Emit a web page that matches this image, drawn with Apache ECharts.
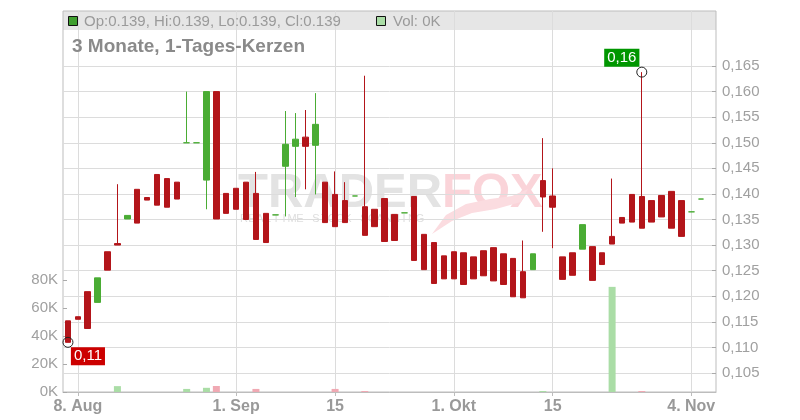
<!DOCTYPE html>
<html><head><meta charset="utf-8">
<script src="https://cdn.jsdelivr.net/npm/echarts@6/dist/echarts.min.js"></script>
<style>html,body{margin:0;padding:0;background:#fff}#c{width:800px;height:420px}</style>
</head><body><div id="c"></div>
<script>
// ---- data ----
const dates = [
'2024-08-07','2024-08-08','2024-08-09','2024-08-12','2024-08-13','2024-08-14','2024-08-15','2024-08-16','2024-08-19','2024-08-20',
'2024-08-21','2024-08-22','2024-08-23','2024-08-26','2024-08-27','2024-08-28','2024-08-29','2024-08-30','2024-09-02','2024-09-03',
'2024-09-04','2024-09-05','2024-09-06','2024-09-09','2024-09-10','2024-09-11','2024-09-12','2024-09-13','2024-09-16','2024-09-17',
'2024-09-18','2024-09-19','2024-09-20','2024-09-23','2024-09-24','2024-09-25','2024-09-26','2024-09-27','2024-09-30','2024-10-01',
'2024-10-02','2024-10-03','2024-10-04','2024-10-07','2024-10-08','2024-10-09','2024-10-10','2024-10-11','2024-10-14','2024-10-15',
'2024-10-16','2024-10-17','2024-10-18','2024-10-21','2024-10-22','2024-10-23','2024-10-24','2024-10-25','2024-10-28','2024-10-29',
'2024-10-30','2024-10-31','2024-11-01','2024-11-04','2024-11-05','2024-11-06'];
const opens = [
0.1152,0.1160,0.1209,0.1188,0.1287,0.1303,0.1351,0.1409,0.1393,0.1438,
0.1430,0.1423,0.1500,0.1500,0.1427,0.1600,0.1401,0.1411,0.1423,0.1401,
0.1362,0.1359,0.1454,0.1493,0.1511,0.1495,0.1423,0.1399,0.1387,0.1396,
0.1375,0.1370,0.1391,0.1360,0.1363,0.1395,0.1321,0.1305,0.1279,0.1287,
0.1285,0.1277,0.1289,0.1295,0.1283,0.1274,0.1248,0.1252,0.1426,0.1396,
0.1277,0.1285,0.1292,0.1297,0.1285,0.1317,0.1354,0.1399,0.1395,0.1387,
0.1397,0.1405,0.1387,0.1365,0.1390];
const closes = [
0.1110,0.1155,0.1137,0.1236,0.1251,0.1300,0.1358,0.1343,0.1388,0.1378,
0.1374,0.1390,0.1500,0.1500,0.1600,0.1351,0.1362,0.1370,0.1350,0.1311,
0.1305,0.1359,0.1497,0.1507,0.1493,0.1536,0.1344,0.1336,0.1344,0.1396,
0.1319,0.1336,0.1307,0.1309,0.1363,0.1270,0.1252,0.1225,0.1234,0.1234,
0.1223,0.1234,0.1240,0.1230,0.1223,0.1199,0.1197,0.1283,0.1394,0.1374,
0.1233,0.1241,0.1340,0.1231,0.1262,0.1302,0.1343,0.1345,0.1333,0.1345,
0.1355,0.1333,0.1317,0.1365,0.1390];
const lows = [
0.1110,0.1155,0.1137,0.1188,0.1251,0.1300,0.1351,0.1343,0.1388,0.1378,
0.1374,0.1390,0.1500,0.1500,0.1370,0.1351,0.1362,0.1370,0.1350,0.1311,
0.1305,0.1359,0.1356,0.1394,0.1409,0.1399,0.1344,0.1336,0.1344,0.1396,
0.1319,0.1336,0.1307,0.1309,0.1363,0.1270,0.1252,0.1225,0.1234,0.1234,
0.1223,0.1234,0.1240,0.1230,0.1223,0.1199,0.1197,0.1252,0.1326,0.1294,
0.1233,0.1241,0.1292,0.1231,0.1262,0.1302,0.1343,0.1345,0.1333,0.1345,
0.1355,0.1333,0.1317,0.1365,0.1390];
const highs = [
0.1152,0.1160,0.1209,0.1236,0.1287,0.1419,0.1358,0.1409,0.1393,0.1438,
0.1430,0.1423,0.1600,0.1500,0.1600,0.1600,0.1401,0.1411,0.1423,0.1443,
0.1362,0.1359,0.1562,0.1558,0.1564,0.1597,0.1423,0.1444,0.1423,0.1396,
0.1631,0.1370,0.1391,0.1360,0.1363,0.1395,0.1321,0.1305,0.1279,0.1287,
0.1285,0.1277,0.1289,0.1295,0.1283,0.1274,0.1309,0.1283,0.1509,0.1450,
0.1277,0.1285,0.1340,0.1297,0.1285,0.1430,0.1354,0.1399,0.1638,0.1387,
0.1397,0.1405,0.1387,0.1365,0.1390];
const volumes = [
0,0,0,0,0,4200,0,0,0,0,
0,0,2200,0,3000,4300,0,0,0,2200,
0,0,0,0,0,0,0,2200,0,0,
700,0,0,0,0,0,0,0,0,0,
0,0,0,0,0,0,0,0,700,0,
0,0,0,0,0,75300,0,0,700,0,
0,0,0,0,0,0];
const tickIdx = [1,17,27,39,49,63];
const tickText = ['8. Aug','1. Sep','15','1. Okt','15','4. Nov'];
const priceTickStep = 0.005;
const volTickStep = 20000;

// ---- styling ----
const FONT = 'Liberation Sans, Arial, sans-serif';
const RED = '#b3151a', GREEN = '#4aac34';
const VGREEN = '#aadda6', VPINK = '#f0a9b3';
const GRIDC = '#dcdcdc', FRAME = '#bdbdbd', LBL = '#a0a0a0';

const candleData = dates.map((d,i) => i < opens.length ? [opens[i], closes[i], lows[i], highs[i]] : '-');
const isTick = (i) => tickIdx.indexOf(i) >= 0;
let iMax = 0, iMin = 0;
highs.forEach((v,i) => { if (v > highs[iMax]) iMax = i; });
lows.forEach((v,i) => { if (v < lows[iMin]) iMin = i; });
const last = opens.length - 1;
const fmt3 = v => v.toFixed(3);
const headerText = 'Op:' + fmt3(opens[last]) + ', Hi:' + fmt3(highs[last]) + ', Lo:' + fmt3(lows[last]) + ', Cl:' + fmt3(closes[last]);
const volText = 'Vol: ' + Math.round(volumes[last] / 1000) + 'K';

const L = 63, R = 84, B = 28;
const priceMin = 0.10129, priceMax = 0.165;

const sub = 'REALTIME STOCK SCANNING'.split('');
const subEls = sub.map((ch, k) => ({type:'text', z:-1, silent:true,
  style:{text:ch, x:244 + k*8, y:219, font:'11px ' + FONT, fill:'#dedede', align:'center', verticalAlign:'middle'}}));

const chart = echarts.init(document.getElementById('c'), null, {renderer:'canvas'});
chart.setOption({
  animation:false,
  backgroundColor:'#fff',
  grid:[
    {left:L, right:R, top:11, bottom:B, show:true, borderColor:FRAME, borderWidth:1, backgroundColor:'transparent'},
    {left:L, right:R, top:66, bottom:B},
    {left:L, right:R, top:280.3, bottom:B}
  ],
  xAxis:[
    {type:'category', gridIndex:0, data:dates, boundaryGap:true,
     axisLine:{show:true, lineStyle:{color:FRAME}},
     axisTick:{show:true, alignWithLabel:true, interval:isTick, length:4, lineStyle:{color:FRAME}},
     axisLabel:{interval:isTick, formatter:(v,i) => tickText[tickIdx.indexOf(i)] || '', color:'#999', fontWeight:'bold', fontSize:16, fontFamily:FONT, margin:7},
     splitLine:{show:true, interval:isTick, alignWithLabel:true, lineStyle:{color:GRIDC}}},
    {type:'category', gridIndex:1, data:dates, boundaryGap:true, show:false},
    {type:'category', gridIndex:2, data:dates, boundaryGap:true, show:false}
  ],
  yAxis:[
    {type:'value', gridIndex:0, show:false, min:0, max:1, splitLine:{show:false}},
    {type:'value', gridIndex:1, position:'right', min:priceMin, max:priceMax,
     minInterval:priceTickStep, maxInterval:priceTickStep, splitNumber:13,
     axisLine:{show:false},
     axisTick:{show:true, inside:true, length:4, lineStyle:{color:'#aaa'}},
     axisLabel:{showMinLabel:false, formatter:v => v.toFixed(3).replace('.', ','), color:LBL, fontSize:15, fontFamily:FONT, margin:6},
     splitLine:{show:true, lineStyle:{color:GRIDC}}},
    {type:'value', gridIndex:2, position:'left', min:0, max:80000, interval:volTickStep,
     axisLine:{show:false},
     axisTick:{show:true, inside:true, length:4, lineStyle:{color:'#aaa'}},
     axisLabel:{formatter:v => (v/1000) + 'K', color:LBL, fontSize:15, fontFamily:FONT, margin:5},
     splitLine:{show:false}}
  ],
  series:[
    {type:'bar', xAxisIndex:2, yAxisIndex:2, data:volumes, barWidth:7, silent:true, z:1,
     itemStyle:{color:p => (p.dataIndex > 0 && closes[p.dataIndex] < closes[p.dataIndex-1]) ? VPINK : VGREEN}},
    {type:'candlestick', xAxisIndex:1, yAxisIndex:1, data:candleData, barWidth:6, silent:true, z:3,
     itemStyle:{color:GREEN, color0:RED, borderColor:GREEN, borderColor0:RED, borderColorDoji:GREEN, borderWidth:1},
     markPoint:{
       symbol:'circle', symbolSize:10, silent:true, animation:false,
       itemStyle:{color:'rgba(0,0,0,0)', borderColor:'#222', borderWidth:1},
       label:{show:true, position:'inside', color:'#fff', fontSize:15, fontFamily:FONT, padding:[2,3,1,3],
              formatter:p => p.value.toFixed(2).replace('.', ',')},
       data:[
         {coord:[dates[iMax], highs[iMax]], value:highs[iMax], label:{backgroundColor:'#009600', offset:[-20,-14.5]}},
         {coord:[dates[iMin], lows[iMin]], value:lows[iMin], label:{backgroundColor:'#cc0000', offset:[20,14]}}
       ]}}
  ],
  graphic:[
    {type:'rect', z:-1, silent:true, shape:{x:63, y:11, width:653, height:19}, style:{fill:'#e6e6e6'}},
    {type:'rect', z:5, silent:true, shape:{x:68.5, y:16.5, width:9, height:9}, style:{fill:'#3f9f2f', stroke:'#111', lineWidth:1}},
    {type:'text', z:5, silent:true, style:{text:headerText, x:84, y:21.5, font:'15px ' + FONT, fill:'#9a9a9a', align:'left', verticalAlign:'middle'}},
    {type:'rect', z:5, silent:true, shape:{x:376.5, y:16.5, width:9, height:9}, style:{fill:VGREEN, stroke:'#111', lineWidth:1}},
    {type:'text', z:5, silent:true, style:{text:volText, x:393, y:21.5, font:'15px ' + FONT, fill:'#9a9a9a', align:'left', verticalAlign:'middle'}},
    {type:'text', z:5, silent:true, style:{text:'3 Monate, 1-Tages-Kerzen', x:72, y:47, font:'bold 19px ' + FONT, fill:'#8a8a8a', align:'left', verticalAlign:'middle'}},
    {type:'text', z:-1, silent:true, style:{text:'TRADER', x:238, y:193, font:'bold 49px ' + FONT, fill:'#e3e3e3', align:'left', verticalAlign:'middle'}},
    {type:'text', z:-1, silent:true, style:{text:'FOX', x:442, y:193, font:'bold 49px ' + FONT, fill:'#fad4d9', align:'left', verticalAlign:'middle'}},
    {type:'polygon', z:-1, silent:true, shape:{points:[[432,234],[446,215],[466,204],[490,199],[512,196],[528,189],[521,202],[496,209],[472,213],[452,221]]}, style:{fill:'#fbdce0'}}
  ].concat(subEls)
});
</script>
</body></html>
